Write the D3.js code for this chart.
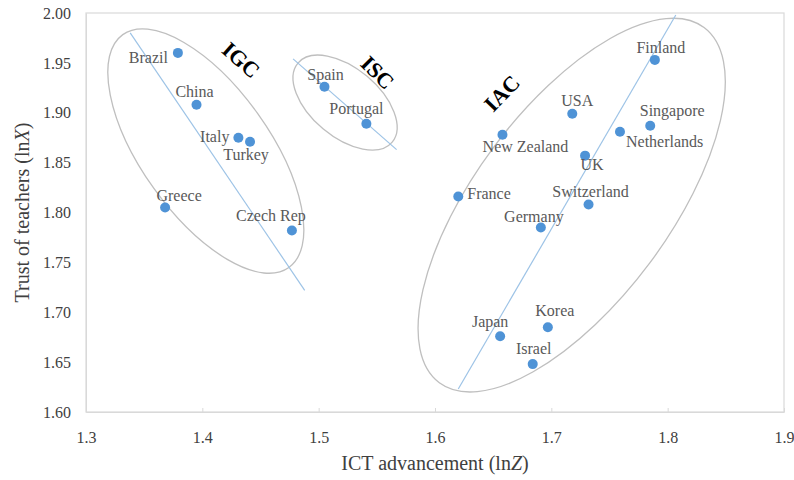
<!DOCTYPE html>
<html>
<head>
<meta charset="utf-8">
<script src="https://cdn.jsdelivr.net/npm/d3@7"></script>
<style>
  body { margin: 0; background: #fff; }
  text { font-family: "Liberation Serif", "Times New Roman", serif; }
</style>
</head>
<body>
<div id="container"></div>
<script>
/* DATA */
const countries = ["Brazil", "China", "Italy", "Turkey", "Greece", "Czech Rep", "Spain", "Portugal",
  "Finland", "USA", "Singapore", "Netherlands", "New Zealand", "UK", "France", "Switzerland",
  "Germany", "Korea", "Japan", "Israel"]
const ictAdvancement = [1.379, 1.395, 1.431, 1.441, 1.368, 1.477, 1.505, 1.541,
  1.789, 1.718, 1.785, 1.759, 1.658, 1.729, 1.620, 1.732,
  1.691, 1.697, 1.656, 1.684]
const trustTeachers = [1.960, 1.908, 1.875, 1.871, 1.805, 1.782, 1.926, 1.889,
  1.953, 1.899, 1.887, 1.881, 1.878, 1.857, 1.816, 1.808,
  1.785, 1.685, 1.676, 1.648]
const groups = ["IGC", "ISC", "IAC"]
// fitted lines: [x0, y0, x1, y1]
const fitLines = [
  [1.338, 1.980, 1.488, 1.722],
  [1.478, 1.954, 1.567, 1.863],
  [1.620, 1.623, 1.807, 1.998]
]
const xTicks = [1.3, 1.4, 1.5, 1.6, 1.7, 1.8, 1.9]
const yTicks = [1.60, 1.65, 1.70, 1.75, 1.80, 1.85, 1.90, 1.95, 2.00]

/* CONSTANTS AND GLOBALS */
const width = 794,
  height = 480,
  margin = { top: 13, bottom: 68, left: 86, right: 10 },
  colors = { dot: "#4F93D6", fit: "#9DC3E6", ring: "#BFBFBF", frame: "#D9D9D9", text: "#595959", tick: "#404040" }

// label placement next to each dot: [anchor, dx, dy]
const labelPos = {
  "Brazil": ["end", -10, 10], "China": ["middle", -2, -8], "Italy": ["end", -9, 4],
  "Turkey": ["middle", -4, 18], "Greece": ["middle", 14, -7], "Czech Rep": ["middle", -21, -9],
  "Spain": ["middle", 1, -7], "Portugal": ["middle", -10, -10], "Finland": ["middle", 6, -7],
  "USA": ["middle", 5, -8], "Singapore": ["middle", 22, -10], "Netherlands": ["start", 6, 15],
  "New Zealand": ["middle", 23, 17], "UK": ["middle", 7, 14], "France": ["start", 9, 2],
  "Switzerland": ["middle", 2, -8], "Germany": ["middle", -7, -5], "Korea": ["middle", 7, -11],
  "Japan": ["middle", -10, -9], "Israel": ["middle", 1, -10]
}
// group rings: centre in data units, half axes in px, rotation in degrees
const rings = [
  { cx: 1.4030, cy: 1.8616, a: 143, b: 64, rot: 54.5 },
  { cx: 1.5227, cy: 1.9102, a: 61.5, b: 34.3, rot: 40 },
  { cx: 1.7175, cy: 1.8074, a: 221.5, b: 97.2, rot: -53.3 }
]
const groupLabelPos = [
  { x: 1.4333, y: 1.9529, rot: 42 },
  { x: 1.5507, y: 1.9403, rot: 45 },
  { x: 1.6575, y: 1.9195, rot: -46 }
]

const data = countries.map((c, i) => ({ country: c, ict: ictAdvancement[i], trust: trustTeachers[i] }))

/* SCALES */
const xScale = d3.scaleLinear()
  .domain([1.3, 1.9])
  .range([margin.left, width - margin.right])

const yScale = d3.scaleLinear()
  .domain([1.6, 2.0])
  .range([height - margin.bottom, margin.top])

const svg = d3.select("#container")
  .append("svg")
  .attr("width", width)
  .attr("height", height)

// frame
svg.append("rect")
  .attr("x", xScale(1.3))
  .attr("y", yScale(2.0))
  .attr("width", xScale(1.9) - xScale(1.3))
  .attr("height", yScale(1.6) - yScale(2.0))
  .attr("fill", "none")
  .attr("stroke", colors.frame)
  .attr("stroke-width", 1.2)

const xAxis = d3.axisBottom(xScale)
  .tickValues(xTicks)
  .tickFormat(d3.format(".1f"))
  .tickSizeInner(-4)
  .tickSizeOuter(0)
  .tickPadding(20)
svg.append("g")
  .attr("transform", `translate(0,${height - margin.bottom})`)
  .call(xAxis)
  .call(g => g.select(".domain").attr("stroke", colors.frame))
  .call(g => g.selectAll(".tick line").attr("stroke", colors.frame))
  .call(g => g.selectAll(".tick text")
    .attr("font-family", "Liberation Serif")
    .attr("font-size", "16px")
    .attr("fill", colors.tick))

const yAxis = d3.axisLeft(yScale)
  .tickValues(yTicks)
  .tickFormat(d3.format(".2f"))
  .tickSize(0)
  .tickPadding(15)
svg.append("g")
  .attr("transform", `translate(${margin.left},0)`)
  .call(yAxis)
  .call(g => g.select(".domain").attr("stroke", colors.frame))
  .call(g => g.selectAll(".tick text")
    .attr("font-family", "Liberation Serif")
    .attr("font-size", "16px")
    .attr("fill", colors.tick))

// axis titles
const xTitle = svg.append("text")
  .attr("x", (xScale(1.3) + xScale(1.9)) / 2)
  .attr("y", 470)
  .attr("text-anchor", "middle")
  .attr("font-size", "20px")
  .attr("fill", colors.tick)
xTitle.append("tspan").text("ICT advancement (ln")
xTitle.append("tspan").attr("font-style", "italic").text("Z")
xTitle.append("tspan").text(")")

const yTitle = svg.append("text")
  .attr("transform", `translate(29,${(yScale(1.6) + yScale(2.0)) / 2}) rotate(-90)`)
  .attr("text-anchor", "middle")
  .attr("font-size", "20px")
  .attr("fill", colors.tick)
yTitle.append("tspan").text("Trust of teachers (ln")
yTitle.append("tspan").attr("font-style", "italic").text("X")
yTitle.append("tspan").text(")")

// group rings
svg.selectAll(".ring")
  .data(rings)
  .join("ellipse")
  .attr("class", "ring")
  .attr("transform", d => `translate(${xScale(d.cx)},${yScale(d.cy)}) rotate(${d.rot})`)
  .attr("rx", d => d.a)
  .attr("ry", d => d.b)
  .attr("fill", "none")
  .attr("stroke", colors.ring)
  .attr("stroke-width", 1.3)

// fitted lines
svg.selectAll(".fit")
  .data(fitLines)
  .join("line")
  .attr("class", "fit")
  .attr("x1", d => xScale(d[0]))
  .attr("y1", d => yScale(d[1]))
  .attr("x2", d => xScale(d[2]))
  .attr("y2", d => yScale(d[3]))
  .attr("stroke", colors.fit)
  .attr("stroke-width", 1.2)

// group labels
svg.selectAll(".group-label")
  .data(groups)
  .join("text")
  .attr("class", "group-label")
  .attr("transform", (d, i) => `translate(${xScale(groupLabelPos[i].x)},${yScale(groupLabelPos[i].y)}) rotate(${groupLabelPos[i].rot})`)
  .attr("text-anchor", "middle")
  .attr("dominant-baseline", "central")
  .attr("font-size", "22px")
  .attr("font-weight", "bold")
  .attr("fill", "#000")
  .text(d => d)

// dots
svg.selectAll(".dot")
  .data(data, d => d.country)
  .join("circle")
  .attr("class", "dot")
  .attr("cx", d => xScale(d.ict))
  .attr("cy", d => yScale(d.trust))
  .attr("r", 5)
  .attr("fill", colors.dot)

// country labels
svg.selectAll(".country-label")
  .data(data, d => d.country)
  .join("text")
  .attr("class", "country-label")
  .attr("x", d => xScale(d.ict) + labelPos[d.country][1])
  .attr("y", d => yScale(d.trust) + labelPos[d.country][2])
  .attr("text-anchor", d => labelPos[d.country][0])
  .attr("font-size", "16px")
  .attr("fill", colors.text)
  .text(d => d.country)
</script>
</body>
</html>
